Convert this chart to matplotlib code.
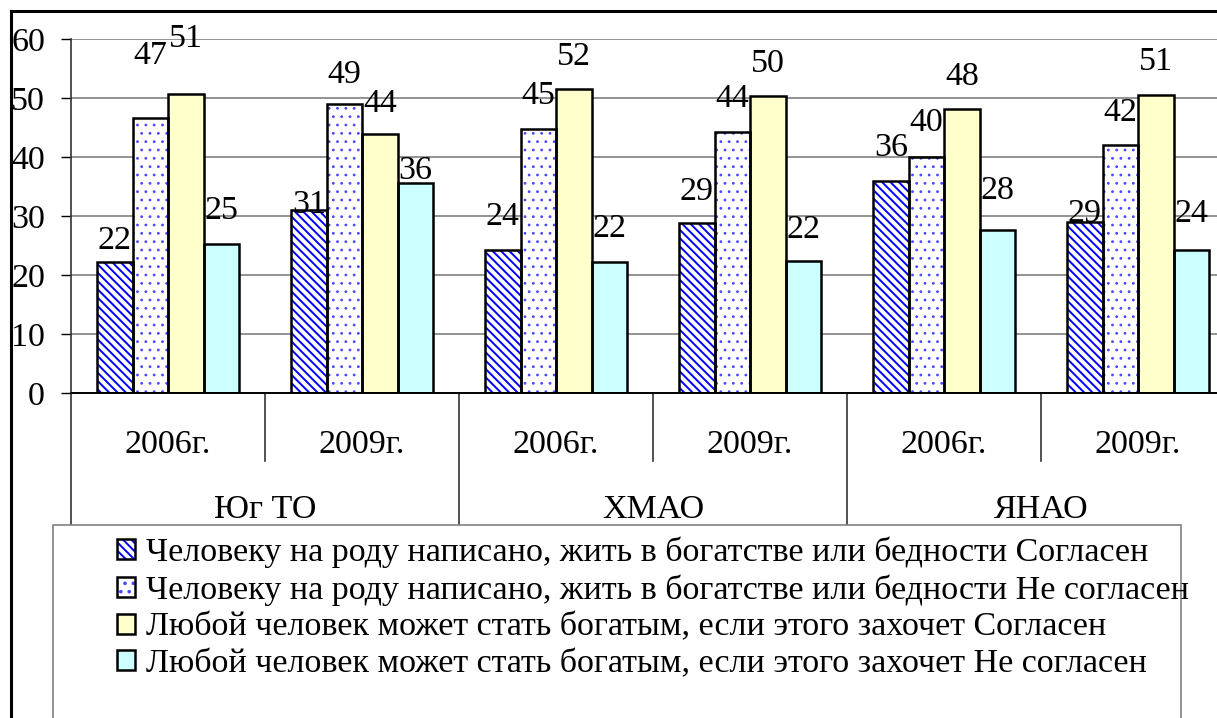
import matplotlib
matplotlib.use("Agg")
import matplotlib.pyplot as plt
import numpy as np
from matplotlib.patches import Patch, Rectangle
from matplotlib.lines import Line2D
from matplotlib.legend_handler import HandlerTuple
import matplotlib.transforms as mtrans

plt.rcParams['font.family'] = ['Liberation Serif', 'DejaVu Serif']
plt.rcParams['hatch.linewidth'] = 1.4

years = ["2006г.", "2009г.", "2006г.", "2009г.", "2006г.", "2009г."]
regions = ["Юг ТО", "ХМАО", "ЯНАО"]
series_names = [
    "Человеку на роду написано, жить в богатстве или бедности Согласен",
    "Человеку на роду написано, жить в богатстве или бедности Не согласен",
    "Любой человек может стать богатым, если этого захочет Согласен",
    "Любой человек может стать богатым, если этого захочет Не согласен",
]
fate_agree = [22.2, 31.0, 24.2, 28.8, 35.9, 29.0]
fate_disagree = [46.6, 49.0, 44.7, 44.2, 40.0, 42.0]
anyone_agree = [50.7, 43.9, 51.5, 50.4, 48.1, 50.5]
anyone_disagree = [25.2, 35.6, 22.2, 22.4, 27.6, 24.2]
series = [fate_agree, fate_disagree, anyone_agree, anyone_disagree]

# label vertical offsets in pixels (style)
label_dy_px = [
    [21, 5, 33, 31, 33, 8],
    [62, 29, 34, 33, 34, 32],
    [55, 30, 32, 32, 32, 33],
    [34, 12, 33, 31, 39, 36],
]

FS = 24.5
W, H = 1217, 718
fig = plt.figure(figsize=(W / 100, H / 100), dpi=100)
ax_l, ax_r, ax_t, ax_b = 71, 1235, 39, 393
ax = fig.add_axes([ax_l / W, (H - ax_b) / H, (ax_r - ax_l) / W, (ax_b - ax_t) / H])

styles = [
    dict(face="white", hatchcol="#0000FF", hatch="\\\\\\\\", hlw=1.4),
    dict(face="white", hatchcol="#4A4AFF", hatch="..", hlw=0.8),
    dict(face="#FFFFCC", hatchcol=None, hatch=None, hlw=1.0),
    dict(face="#CCFFFF", hatchcol=None, hatch=None, hlw=1.0),
]


def set_hlw(p, lw):
    if hasattr(p, "set_hatch_linewidth"):
        p.set_hatch_linewidth(lw)


def label_text(v):
    return str(int(np.floor(v + 0.5)))


x = np.arange(len(years))
bw = 35.5 / 194
handles = []
for i, (vals, st) in enumerate(zip(series, styles)):
    pos = x + (i - 1.5) * bw
    with plt.rc_context({"hatch.linewidth": st["hlw"]}):
        if st["hatch"]:
            bars = ax.bar(pos, vals, bw, color=st["face"], edgecolor=st["hatchcol"],
                          hatch=st["hatch"], linewidth=0, zorder=2)
            hp = Patch(facecolor=st["face"], edgecolor=st["hatchcol"], hatch=st["hatch"], linewidth=0)
        else:
            bars = ax.bar(pos, vals, bw, color=st["face"], linewidth=0, zorder=2)
            hp = Patch(facecolor=st["face"], linewidth=0)
    for b in bars:
        set_hlw(b, st["hlw"])
    set_hlw(hp, st["hlw"])
    ax.bar(pos, vals, bw, facecolor="none", edgecolor="black", linewidth=1.8, zorder=3)
    handles.append((hp, Patch(facecolor="none", edgecolor="black", linewidth=1.8)))
    for j, v in enumerate(vals):
        ax.annotate(label_text(v), (pos[j], v), xytext=(0, label_dy_px[i][j]),
                    textcoords="offset pixels", ha="center", va="center",
                    fontsize=FS, zorder=4)

ax.set_xlim(-0.5, len(years) - 0.5)
ax.set_ylim(0, 60)
ax.set_yticks(np.arange(0, 61, 10))
ax.tick_params(axis="y", length=7.2, width=1, pad=11.5, labelsize=FS, color="black")
ax.set_xticks([])
ax.yaxis.grid(True, color="#808080", linewidth=1.2)
ax.set_axisbelow(True)
for s in ["top", "right"]:
    ax.spines[s].set_visible(False)
ax.spines["left"].set_linewidth(1.2)
ax.spines["bottom"].set_linewidth(1.4)
ax.spines["left"].set_color("#333333")

# category axis
trans = mtrans.blended_transform_factory(ax.transData, ax.transAxes)
axh = ax_b - ax_t
short_y = -(461 - ax_b) / axh
long_y = -(525 - ax_b) / axh
year_y = -(445 - ax_b) / axh
reg_y = -(510 - ax_b) / axh
for k in range(len(years) + 1):
    xb = k - 0.5
    yend = long_y if k % 2 == 0 else short_y
    ax.plot([xb, xb], [0, yend], transform=trans, color="#333333", lw=1.2, clip_on=False)
for k, yr in enumerate(years):
    ax.text(k, year_y, yr, transform=trans, ha="center", va="center", fontsize=FS)
for k, rg in enumerate(regions):
    ax.text(2 * k + 0.5, reg_y, rg, transform=trans, ha="center", va="center", fontsize=FS)

# outer frame (left/top)
fig.add_artist(Line2D([11 / W, 11 / W], [0, (H - 11) / H], color="black", lw=2.2))
fig.add_artist(Line2D([11 / W, 1], [(H - 11) / H, (H - 11) / H], color="black", lw=2.2))

# legend frame
fig.add_artist(Rectangle((53 / W, -0.1), (1181 - 53) / W, (H - 525) / H + 0.1,
                         transform=fig.transFigure, facecolor="white",
                         edgecolor="#808080", lw=1.2, zorder=5))
leg = fig.legend(handles, series_names,
                 handler_map={tuple: HandlerTuple(ndivide=1, pad=0)},
                 loc="upper left", bbox_to_anchor=(117 / W, (H - 537) / H),
                 frameon=False, fontsize=FS, handlelength=0.53, handleheight=0.53,
                 handletextpad=0.33, labelspacing=0.18, borderpad=0, borderaxespad=0)
leg.set_zorder(6)

fig.savefig("out.png", dpi=100)
